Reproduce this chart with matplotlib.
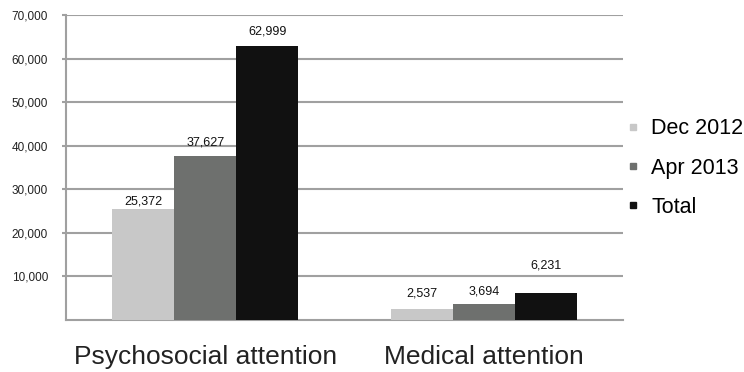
import matplotlib
matplotlib.use('Agg')
import matplotlib.pyplot as plt
from matplotlib.lines import Line2D
import numpy as np

categories = ['Psychosocial attention', 'Medical attention']
series = ['Dec 2012', 'Apr 2013', 'Total']
dec_2012 = [25372, 2537]
apr_2013 = [37627, 3694]
total = [62999, 6231]
yticks = [10000, 20000, 30000, 40000, 50000, 60000, 70000]

colors = ['#c8c8c8', '#6e706e', '#111111']
# label offsets above each bar (points), per series then category
label_offsets = [[6, 11], [10, 9], [10, 20]]

plt.rcParams['font.family'] = ['Liberation Sans', 'DejaVu Sans']
grid_col = '#a0a0a0'

fig = plt.figure(figsize=(7.44, 3.72), dpi=100)
ax = fig.add_axes([66 / 744, 52 / 372, 557 / 744, 305 / 372])

x = np.arange(len(categories))
w = 0.223
for i, vals in enumerate([dec_2012, apr_2013, total]):
    xs = x + (i - 1) * w
    ax.bar(xs, vals, width=w, color=colors[i], zorder=3)
    for j, v in enumerate(vals):
        ax.annotate(f'{v:,}', (xs[j], v), xytext=(0, label_offsets[i][j]),
                    textcoords='offset points', ha='center', va='center',
                    fontsize=9, color='#111111')

ax.set_xlim(-0.5, 1.5)
ax.set_ylim(0, 70000)
ax.set_yticks(yticks)
ax.set_yticklabels([f'{t:,}' for t in yticks], fontsize=8.5, color='#222222')
ax.yaxis.grid(True, color=grid_col, linewidth=1.5, zorder=0)
ax.tick_params(axis='y', length=3, width=1.5, color=grid_col, pad=10)
ax.set_xticks(x)
ax.set_xticklabels(categories, fontsize=19, color='#222222')
ax.tick_params(axis='x', length=0, pad=18)

for s in ['top', 'right']:
    ax.spines[s].set_visible(False)
for s in ['left', 'bottom']:
    ax.spines[s].set_color(grid_col)
    ax.spines[s].set_linewidth(1.5)

handles = [Line2D([], [], marker='s', linestyle='none', markersize=5,
                  color=c) for c in colors]
fig.legend(handles, series, loc='center left', bbox_to_anchor=(0.842, 0.548),
           frameon=False, fontsize=15.5, handlelength=0.6, handletextpad=0.55,
           labelspacing=0.85, borderpad=0, borderaxespad=0)

fig.savefig('out.png', dpi=100)
